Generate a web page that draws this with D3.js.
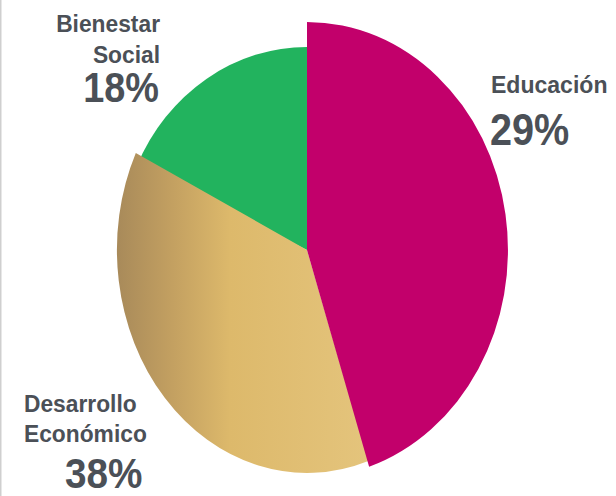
<!DOCTYPE html>
<html><head><meta charset="utf-8">
<script src="https://cdn.jsdelivr.net/npm/d3@7"></script>
<style>
html,body{margin:0;padding:0;background:#fff;}
svg{display:block;}
text{font-family:"Liberation Sans",Arial,Helvetica,sans-serif;font-weight:bold;fill:#4b5057;}
</style></head>
<body>
<script>
// ---- data ----
const categories = ["Educación", "Desarrollo Económico", "Bienestar Social"];
const sliceShares = [45, 37, 18];          // share of the disc as drawn
const pctLabels = ["29%", "38%", "18%"];   // percentages printed on the chart

// ---- styles / layout ----
const W = 616, H = 496;
const cx = 307, cy = 250;
const sliceStyle = [
  {fill: "#c2006b", rx: 201, ry: 228},
  {fill: "url(#goldGrad)", rx: 190, ry: 223},
  {fill: "#22b35e", rx: 187, ry: 203}
];

const svg = d3.select("body").append("svg").attr("width", W).attr("height", H);
svg.append("rect").attr("width", W).attr("height", H).attr("fill", "#fff");
svg.append("rect").attr("x", 0).attr("y", 0).attr("width", 1.5).attr("height", H).attr("fill", "#cfcfcf");

const defs = svg.append("defs");
const g = defs.append("linearGradient").attr("id", "goldGrad")
  .attr("x1", 0).attr("x2", 1).attr("y1", 0).attr("y2", 0);
[[0, "#a88a5a"], [0.22, "#c3a061"], [0.45, "#ddb96b"], [1, "#e4c47c"]]
  .forEach(([o, c]) => g.append("stop").attr("offset", o).attr("stop-color", c));

const pie = d3.pie().sort(null).value(d => d).startAngle(0).endAngle(2 * Math.PI);
const arcs = pie(sliceShares);
const arc = d3.arc().innerRadius(0).outerRadius(1);
// slightly widen the lower slices under the magenta one to avoid hairline gaps
const drawArc = (i) => {
  const a = arcs[i];
  return i === 0 ? arc(a) : arc({startAngle: a.startAngle - 0.015, endAngle: a.endAngle + 0.01});
};

const order = [2, 1, 0]; // draw green, gold, then magenta on top
svg.append("g").selectAll("path").data(order).join("path")
  .attr("d", drawArc)
  .attr("transform", i => `translate(${cx},${cy}) scale(${sliceStyle[i].rx},${sliceStyle[i].ry})`)
  .attr("fill", i => sliceStyle[i].fill);

// ---- labels ----
const labels = svg.append("g");
function line(t, x, y, anchor, size, sx) {
  labels.append("text")
    .attr("transform", `translate(${x},${y}) scale(${sx},1)`)
    .attr("text-anchor", anchor).attr("font-size", size).text(t);
}
// Bienestar Social
line("Bienestar", 160, 32, "end", 24, 0.95);
line("Social", 160, 63, "end", 24, 0.95);
line(pctLabels[2], 159, 102, "end", 43, 0.88);
// Educación
line(categories[0], 491, 93, "start", 24, 0.96);
line(pctLabels[0], 490, 145, "start", 44, 0.9);
// Desarrollo Económico
line("Desarrollo", 24, 412, "start", 24, 0.95);
line("Económico", 24, 442, "start", 24, 0.95);
line(pctLabels[1], 65, 488, "start", 43, 0.9);
</script>
</body></html>
